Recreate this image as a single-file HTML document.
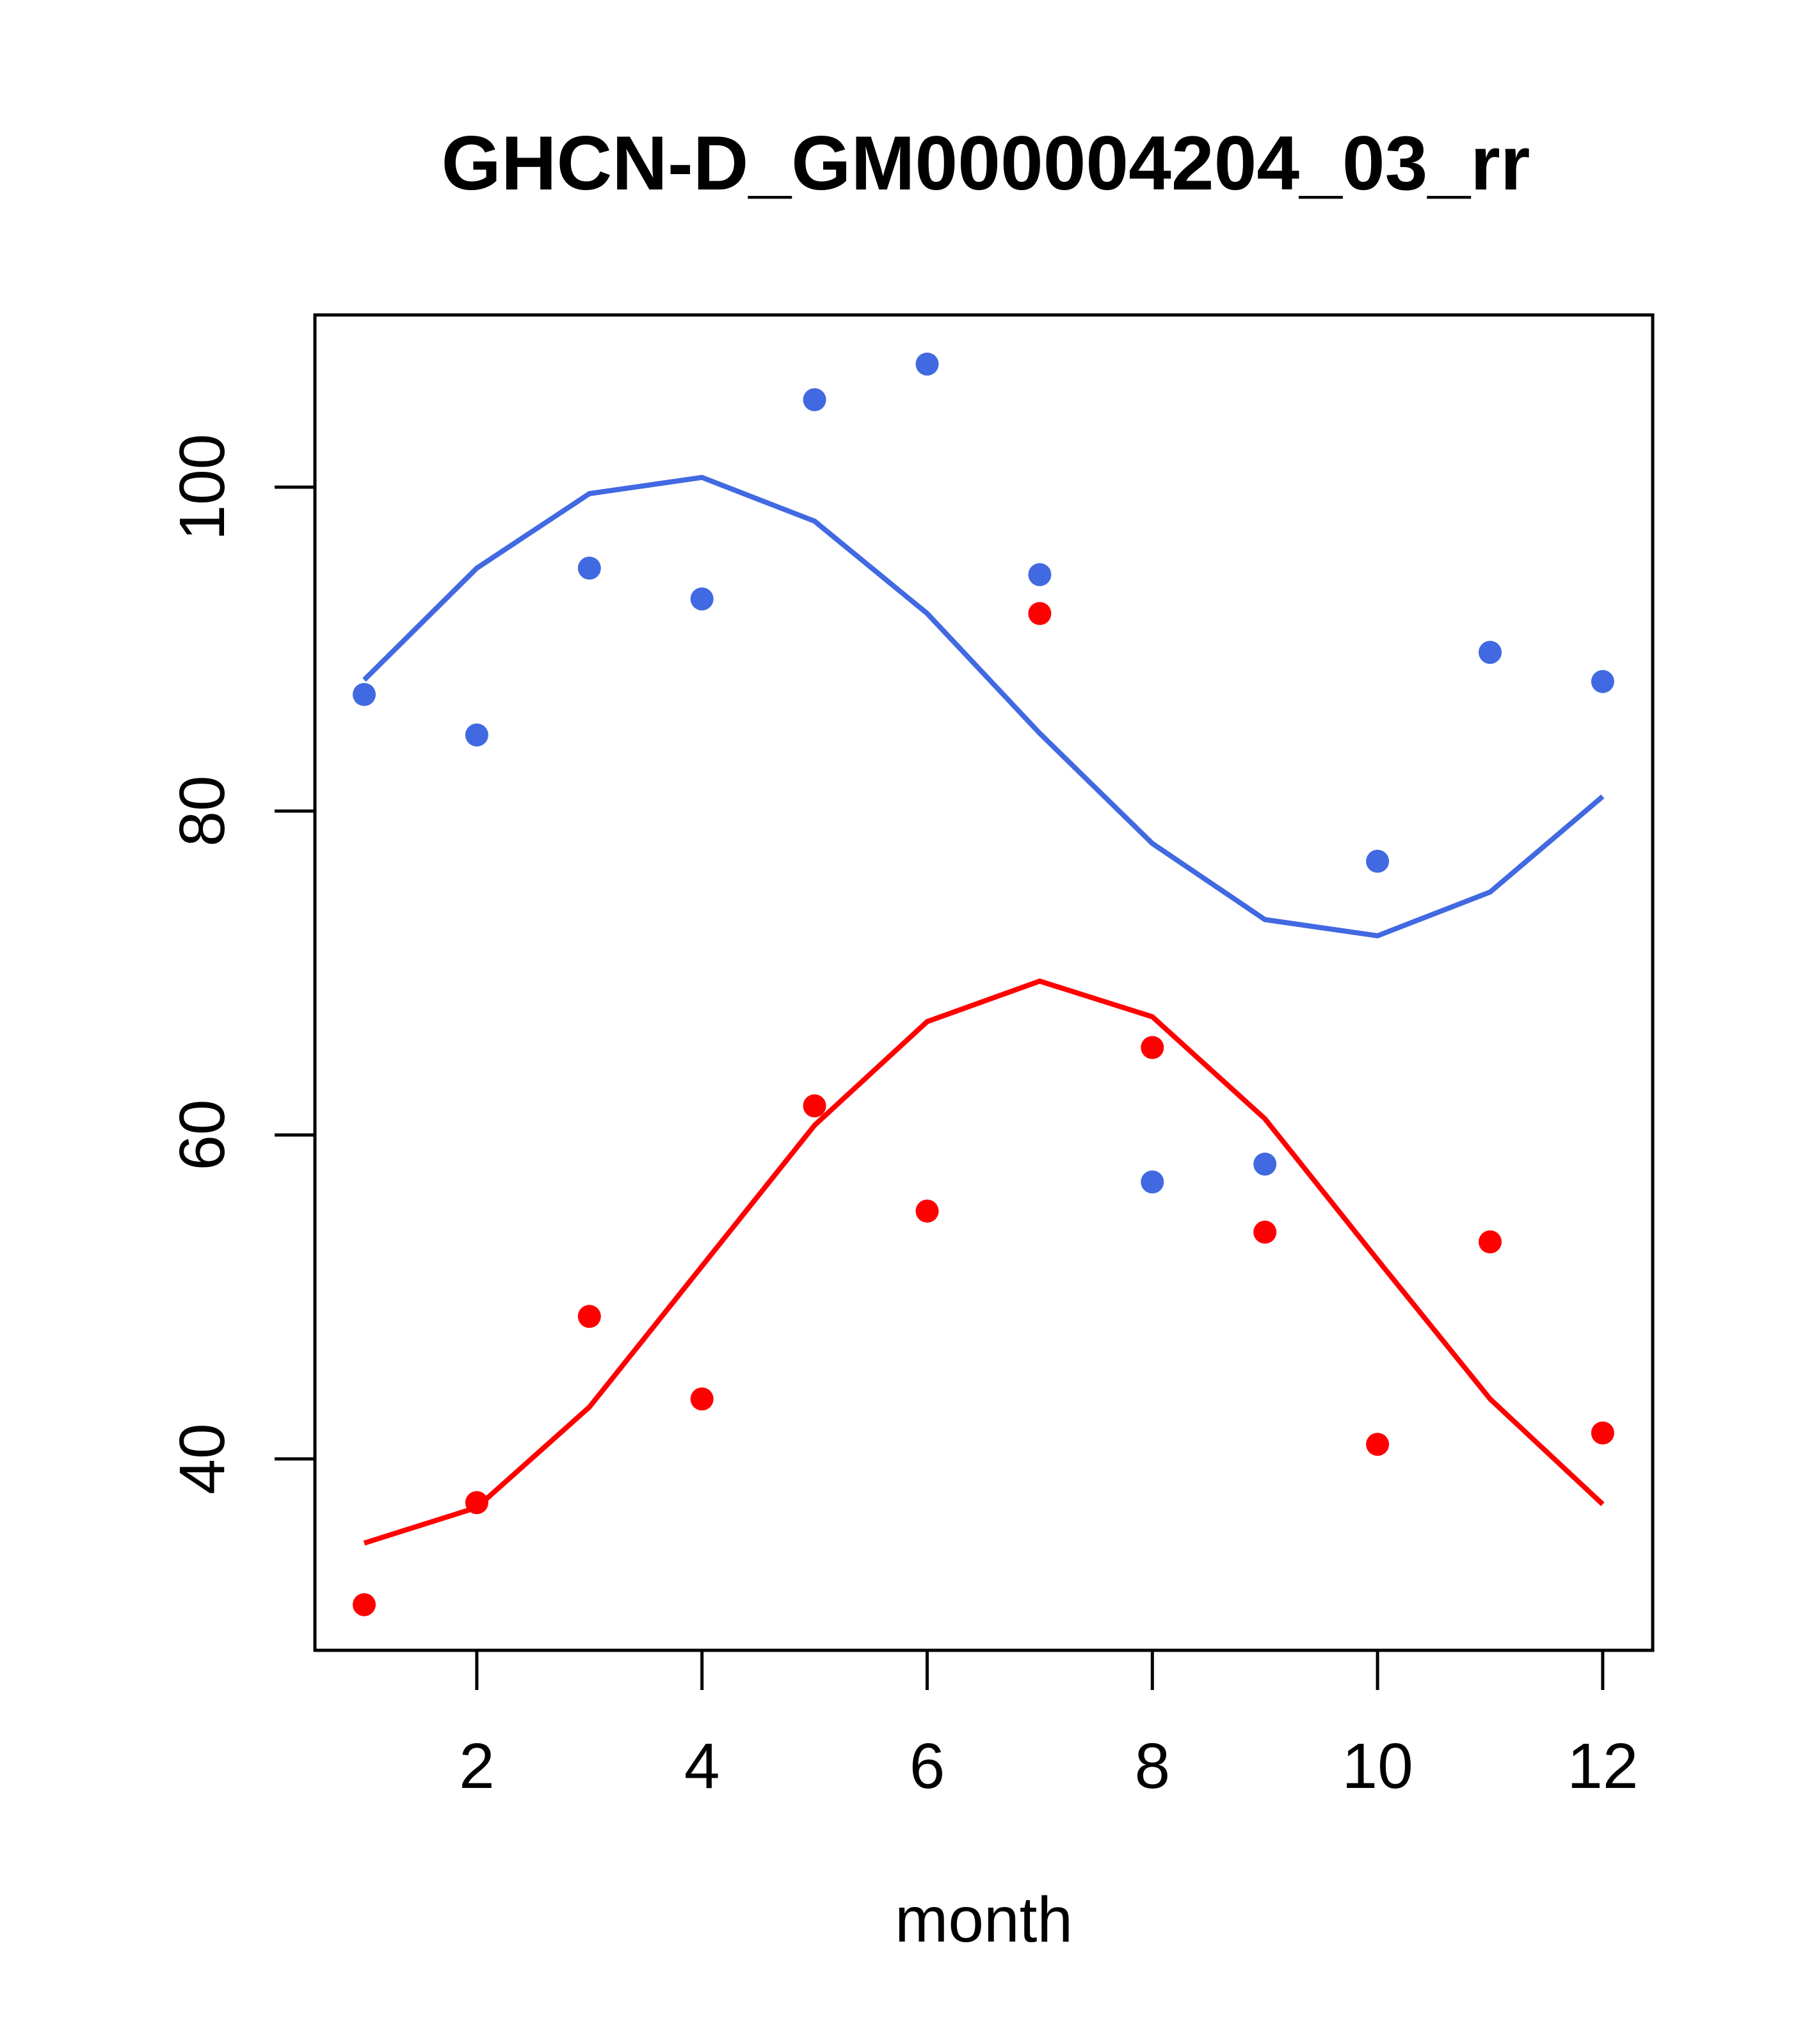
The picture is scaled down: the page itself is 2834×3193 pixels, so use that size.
<!DOCTYPE html>
<html><head><meta charset="utf-8"><style>html,body{margin:0;padding:0;background:#fff}</style></head>
<body>
<svg width="2834" height="3188" xmlns="http://www.w3.org/2000/svg" font-family="Liberation Sans, sans-serif">
<rect width="2834" height="3188" fill="#fff"/>
<text x="1540" y="296" font-size="120" font-weight="bold" text-anchor="middle">GHCN-D_GM000004204_03_rr</text>
<rect x="492" y="492" width="2090" height="2086" fill="none" stroke="#000" stroke-width="5"/>
<g id="xaxis"></g>
<g id="yaxis"></g>
<text x="1537" y="3033" font-size="100" text-anchor="middle">month</text>
<g id="series"></g>
</svg>
<script>
const months=[1,2,3,4,5,6,7,8,9,10,11,12];
const xTicks=[2,4,6,8,10,12];
const yTicks=[40,60,80,100];
const bluePoints=[87.2,84.7,95.0,93.1,105.4,107.6,94.6,57.1,58.2,76.9,89.8,88.0];
const blueLine=[88.1,95.0,99.6,100.6,97.9,92.2,84.8,78.0,73.3,72.3,75.0,80.9];
const redPoints=[31.0,37.3,48.8,43.7,61.8,55.3,92.2,65.4,54.0,40.9,53.4,41.6];
const redLine=[34.8,37.0,43.2,51.9,60.6,67.0,69.5,67.3,61.0,52.3,43.7,37.2];
const NS='http://www.w3.org/2000/svg';
function X(m){return 569+(m-1)*175.9;}
function Y(v){return 761+(100-v)*25.3;}
function mk(t,a,p){const e=document.createElementNS(NS,t);for(const k in a)e.setAttribute(k,a[k]);p.appendChild(e);return e;}
const xa=document.getElementById('xaxis');
xTicks.forEach(t=>{
 const l=mk('line',{x1:X(t),x2:X(t),y1:2578,y2:2640,stroke:'#000','stroke-width':5},xa);
 
 
 const tx=mk('text',{x:X(t),y:2793,'font-size':100,'text-anchor':'middle'},xa);
 tx.textContent=t;
 
 
});
const ya=document.getElementById('yaxis');
yTicks.forEach(t=>{
 const l=mk('line',{x1:429,x2:492,y1:Y(t),y2:Y(t),stroke:'#000','stroke-width':5},ya);
 
 
 const tx=mk('text',{x:0,y:0,'font-size':100,'text-anchor':'middle',transform:`translate(350,${Y(t)}) rotate(-90)`},ya);
 tx.textContent=t;
 
 
});
const sg=document.getElementById('series');
function line(vals,col,name){
 const p=mk('polyline',{points:vals.map((v,i)=>X(months[i])+','+Y(v)).join(' '),fill:'none',stroke:col,'stroke-width':8},sg);
 
 
}
function pts(vals,col,name){
 vals.forEach((v,i)=>{
  const c=mk('circle',{cx:X(months[i]),cy:Y(v),r:18,fill:col},sg);
  
  
 });
}
line(blueLine,'#4169e1','blue-fit-line');
line(redLine,'#ff0000','red-fit-line');
pts(bluePoints,'#4169e1','blue-point');
pts(redPoints,'#ff0000','red-point');
</script>
</body></html>
